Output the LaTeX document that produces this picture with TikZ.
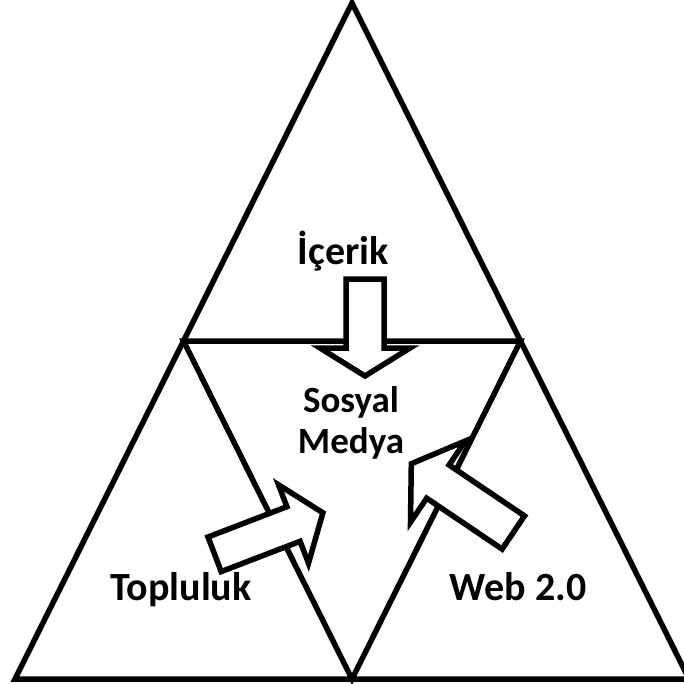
\documentclass[tikz,border=0pt]{standalone}
\usepackage{fontspec}
\setmainfont{Carlito}
\begin{document}
\begin{tikzpicture}[x=1pt,y=-1pt,
  tri/.style={draw=black,line width=5.5pt,line join=miter},
  blockarrow/.style={draw=black,fill=white,line width=5.5pt,line join=miter},
  lbl/.style={font=\fontsize{37}{41}\selectfont\bfseries,anchor=base,inner sep=0pt,align=center},
  biglbl/.style={lbl,font=\fontsize{40}{44}\selectfont\bfseries}]
\useasboundingbox (0,0) rectangle (683,684);
% outer triangle
\coordinate (A) at (352,3);
\coordinate (B) at (15,679);
\coordinate (C) at (689,679);
% midpoints
\coordinate (AB) at (183.5,341);
\coordinate (AC) at (520.5,341);
\coordinate (BC) at (352,679);
\draw[tri] (A) -- (C) -- (B) -- cycle;
\draw[tri] (AB) -- (AC) -- (BC) -- cycle;
% down arrow (Icerik)
\draw[blockarrow] (346,279) -- (346,348) -- (320,348) -- (365,376) -- (410,348) -- (384,348) -- (384,279) -- cycle;
% arrow from Topluluk
\draw[blockarrow] (208.0,537.0) -- (286.9,506.7) -- (278.5,484.8) -- (322.9,512.8) -- (308.5,563.2) -- (300.1,541.3) -- (221.2,571.6) -- cycle;
% arrow from Web 2.0
\draw[blockarrow] (524.5,515.9) -- (449.1,465.0) -- (465.3,441.0) -- (411.3,463.7) -- (410.5,522.2) -- (426.7,498.2) -- (502.1,549.1) -- cycle;
% labels
\node[biglbl] (icerik) at (343,264) {İçerik};
\node[lbl] (sm) at (351,453) {Sosyal\\Medya};
\node[biglbl] (top) at (181,600) {Topluluk};
\node[biglbl] (web) at (518,600) {Web 2.0};
\end{tikzpicture}
\end{document}
